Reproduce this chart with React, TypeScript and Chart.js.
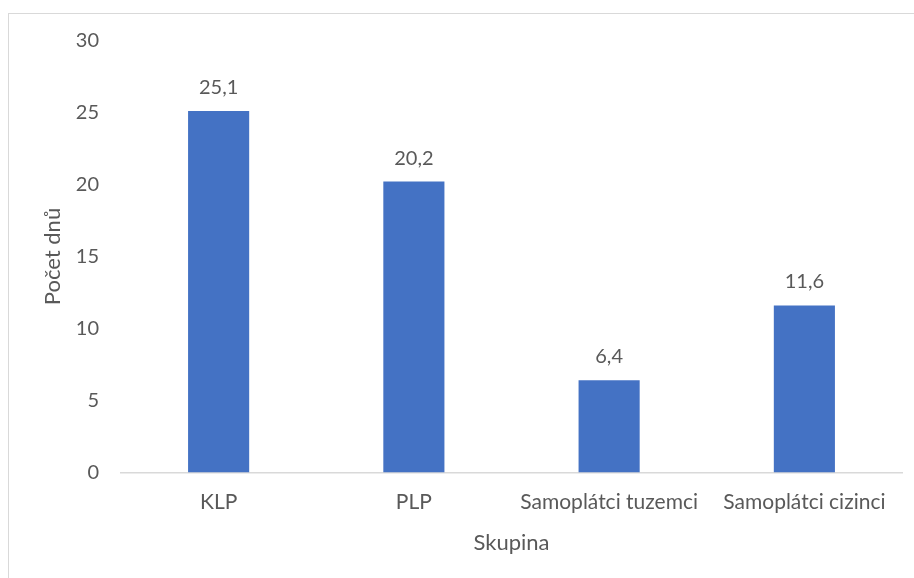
import React, { useEffect, useRef } from "react";
import { Chart, registerables } from "chart.js";

Chart.register(...registerables);

const categories: string[] = ["KLP", "PLP", "Samoplátci tuzemci", "Samoplátci cizinci"];
const values: number[] = [25.1, 20.2, 6.4, 11.6];
const yTicks: number[] = [0, 5, 10, 15, 20, 25, 30];
const xTitle = "Skupina";
const yTitle = "Počet dnů";

const FONT = "Lato";
const TEXT = "#595959";

const dataLabels = {
  id: "dataLabels",
  afterDatasetsDraw(chart: any) {
    const ctx = chart.ctx;
    const meta = chart.getDatasetMeta(0);
    ctx.save();
    ctx.font = `20px ${FONT}`;
    ctx.fillStyle = TEXT;
    ctx.textAlign = "center";
    ctx.textBaseline = "alphabetic";
    meta.data.forEach((bar: any, i: number) => {
      const v = chart.data.datasets[0].data[i] as number;
      ctx.fillText(v.toFixed(1).replace(".", ","), bar.x, bar.y - 17);
    });
    ctx.restore();
  },
};

export default function App() {
  const ref = useRef<HTMLCanvasElement | null>(null);
  useEffect(() => {
    if (!ref.current) return;
    const chart = new Chart(ref.current, {
      type: "bar",
      data: {
        labels: categories,
        datasets: [
          {
            data: values,
            backgroundColor: "#4472C4",
            borderWidth: 0,
            categoryPercentage: 1,
            barPercentage: 0.313,
          },
        ],
      },
      options: {
        responsive: false,
        animation: false,
        devicePixelRatio: 1,
        layout: { padding: { top: 26.5, right: 12, bottom: 21.8, left: 0 } },
        plugins: { legend: { display: false }, tooltip: { enabled: false } },
        scales: {
          x: {
            afterFit: (scale: any) => {
              scale.height = 83.7;
              scale.paddingTop = 0;
              scale.paddingBottom = 0;
            },
            grid: { display: false, drawTicks: false },
            border: { display: true, color: "#d9d9d9", width: 1.5 },
            ticks: {
              color: TEXT,
              font: { family: FONT, size: 21 },
              padding: 17,
              maxRotation: 0,
              autoSkip: false,
            },
            title: {
              display: true,
              text: xTitle,
              color: TEXT,
              font: { family: FONT, size: 22 },
              padding: { top: 16.3, bottom: 0 },
            },
          },
          y: {
            min: 0,
            max: 30,
            afterBuildTicks: (scale: any) => {
              scale.ticks = yTicks.map((v) => ({ value: v }));
            },
            afterFit: (scale: any) => {
              scale.width = 112;
              scale.paddingTop = 0;
              scale.paddingBottom = 0;
            },
            grid: { display: false, drawTicks: false },
            border: { display: false },
            ticks: {
              color: TEXT,
              font: { family: FONT, size: 20 },
              padding: 22,
            },
            title: {
              display: true,
              text: yTitle,
              color: TEXT,
              font: { family: FONT, size: 22 },
              padding: { top: 31, bottom: 0 },
            },
          },
        },
      },
      plugins: [dataLabels],
    });
    return () => chart.destroy();
  }, []);

  return (
    <div
      style={{
        position: "fixed",
        left: 8,
        top: 13,
        width: 960,
        height: 620,
        border: "1px solid #d9d9d9",
        boxSizing: "border-box",
        background: "#fff",
      }}
    >
      <canvas ref={ref} width={905} height={564} style={{ display: "block" }} />
    </div>
  );
}
